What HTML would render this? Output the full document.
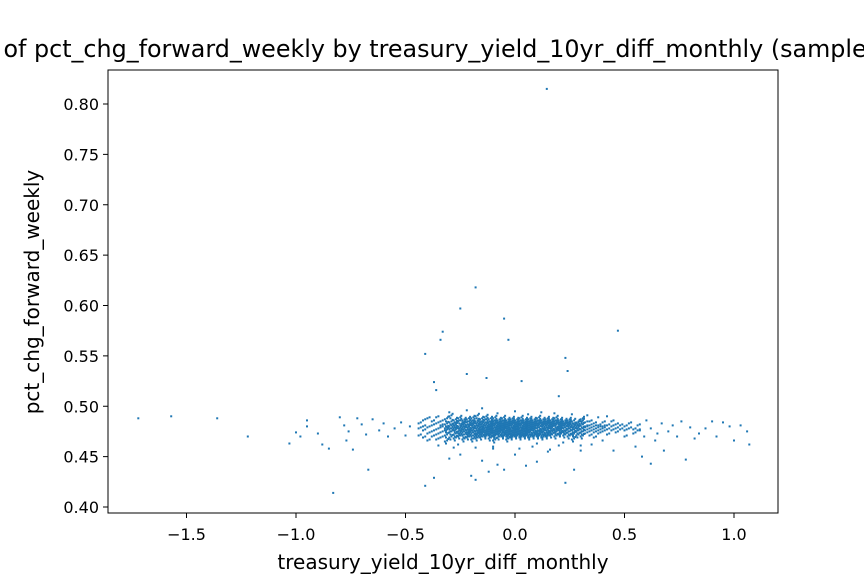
<!DOCTYPE html>
<html><head><meta charset="utf-8"><style>
html,body{margin:0;padding:0;background:#fff;overflow:hidden;}
svg{display:block;font-family:"DejaVu Sans","Liberation Sans",sans-serif;}
</style></head><body>
<svg id="chart" width="864" height="576" viewBox="0 0 864 576">
<rect x="0" y="0" width="864" height="576" fill="#fff"/>
<text x="393" y="57" font-size="23.8" text-anchor="middle" fill="#000">Scatter of pct_chg_forward_weekly by treasury_yield_10yr_diff_monthly (sample)</text>
<g id="points"></g>
<g id="xticks"></g>
<g id="yticks"></g>
<rect x="108" y="70" width="670" height="443" fill="none" stroke="#000" stroke-width="1"/>
<text x="443" y="569" font-size="20" text-anchor="middle">treasury_yield_10yr_diff_monthly</text>
<text x="0" y="0" font-size="20" text-anchor="middle" transform="translate(39,292) rotate(-90)">pct_chg_forward_weekly</text>
</svg>
<script>
const xTicks=[-1.5,-1.0,-0.5,0.0,0.5,1.0];
const xTickLabels=["\u22121.5","\u22121.0","\u22120.5","0.0","0.5","1.0"];
const yTicks=[0.40,0.45,0.50,0.55,0.60,0.65,0.70,0.75,0.80];
const yTickLabels=["0.40","0.45","0.50","0.55","0.60","0.65","0.70","0.75","0.80"];
const sparseX=[0.145,-0.18,-0.25,-0.05,-0.03,0.47,-0.33,-0.34,-0.41,0.23,-0.22,0.03,-0.13,0.24,-0.37,-0.36,0.20,
-1.72,-1.57,-1.36,-1.22,-1.03,-1.0,-0.98,-0.95,-0.95,-0.9,-0.88,-0.85,-0.83,-0.8,-0.78,-0.77,-0.74,-0.76,-0.72,-0.7,-0.68,-0.67,-0.65,-0.62,-0.6,-0.58,-0.55,-0.52,-0.5,-0.48,
0.6,0.62,0.64,0.65,0.67,0.68,0.7,0.72,0.74,0.76,0.78,0.8,0.82,0.84,0.87,0.9,0.92,0.95,0.98,1.0,1.03,1.06,1.07,0.58,0.55,0.62,0.57,0.59,
-0.41,-0.37,-0.2,-0.18,-0.12,-0.05,0.1,0.05,0.23,0.27,0.45,0.3,-0.08,-0.3,-0.25,-0.15,0.0,0.15,-0.1,0.08,0.2,-0.28,0.35,0.4,-0.35,
-0.3,-0.22,-0.15,-0.08,0.0,0.06,0.12,0.18,0.26,0.33,0.38,0.42,-0.26,-0.1,0.1,0.22,0.3,-0.18,0.02,0.16];
const sparseY=[0.815,0.618,0.597,0.587,0.566,0.575,0.574,0.566,0.552,0.548,0.532,0.525,0.528,0.535,0.524,0.516,0.510,
0.488,0.490,0.488,0.470,0.463,0.474,0.470,0.486,0.480,0.473,0.462,0.458,0.414,0.489,0.481,0.466,0.457,0.475,0.488,0.482,0.472,0.437,0.487,0.476,0.483,0.470,0.478,0.484,0.471,0.480,
0.486,0.478,0.466,0.473,0.483,0.456,0.475,0.481,0.470,0.485,0.447,0.479,0.468,0.473,0.478,0.485,0.470,0.484,0.480,0.466,0.481,0.475,0.462,0.450,0.460,0.443,0.476,0.470,
0.421,0.429,0.431,0.427,0.435,0.437,0.445,0.441,0.424,0.437,0.456,0.456,0.442,0.448,0.452,0.446,0.452,0.455,0.458,0.460,0.461,0.459,0.462,0.466,0.461,
0.494,0.496,0.498,0.493,0.495,0.492,0.494,0.493,0.492,0.491,0.489,0.490,0.462,0.460,0.463,0.464,0.461,0.459,0.458,0.457];
const coreCols=[-0.44,-0.42,-0.40,-0.38,-0.36,-0.34,-0.32,-0.30,-0.28,-0.26,-0.24,-0.22,-0.20,-0.18,-0.16,-0.14,-0.12,-0.10,-0.08,-0.06,-0.04,-0.02,0.00,0.02,0.04,0.06,0.08,0.10,0.12,0.14,0.16,0.18,0.20,0.22,0.24,0.26,0.28,0.30,0.32,0.34,0.36,0.38,0.40,0.42,0.44,0.46,0.48,0.50,0.52,0.54,0.56];
const coreVals=[
[0.478,0.483,0.471],[0.476,0.486,0.469,0.480],[0.479,0.473,0.488,0.466],[0.481,0.475,0.470,0.485],[0.477,0.483,0.472,0.467,0.489],
[0.479,0.474,0.485,0.469,0.481],[0.476,0.482,0.471,0.487,0.478,0.465],[0.480,0.474,0.484,0.469,0.477,0.490],[0.478,0.483,0.472,0.476,0.486,0.468,0.481],
[0.475,0.480,0.485,0.470,0.478,0.473,0.488],[0.477,0.482,0.471,0.486,0.474,0.479,0.467,0.484],[0.476,0.481,0.472,0.487,0.479,0.469,0.484,0.474],
[0.478,0.483,0.473,0.488,0.476,0.470,0.481,0.485,0.467],[0.475,0.480,0.485,0.471,0.478,0.483,0.468,0.490,0.473],[0.477,0.482,0.472,0.487,0.479,0.474,0.484,0.469,0.476],
[0.478,0.481,0.474,0.486,0.470,0.483,0.476,0.489,0.472],[0.477,0.480,0.475,0.484,0.471,0.482,0.473,0.487,0.468,0.479],[0.476,0.481,0.474,0.485,0.470,0.483,0.478,0.488,0.472,0.466],
[0.478,0.480,0.475,0.484,0.472,0.482,0.474,0.486,0.469,0.477],[0.477,0.481,0.473,0.485,0.471,0.483,0.476,0.488,0.470,0.479],[0.476,0.480,0.474,0.484,0.470,0.482,0.478,0.486,0.472,0.467],
[0.478,0.481,0.475,0.485,0.471,0.483,0.473,0.487,0.469,0.477],[0.477,0.480,0.474,0.484,0.472,0.482,0.476,0.486,0.470,0.479],[0.476,0.481,0.473,0.485,0.471,0.483,0.478,0.488,0.469,0.475],
[0.478,0.480,0.475,0.484,0.470,0.482,0.473,0.486,0.472,0.477],[0.477,0.481,0.474,0.485,0.471,0.483,0.476,0.487,0.469,0.479],[0.476,0.480,0.473,0.484,0.472,0.482,0.478,0.486,0.470],
[0.478,0.481,0.475,0.485,0.470,0.483,0.474,0.488,0.472],[0.477,0.480,0.474,0.484,0.471,0.482,0.476,0.486,0.469],[0.476,0.481,0.473,0.485,0.472,0.483,0.478,0.487,0.470],
[0.478,0.480,0.475,0.484,0.471,0.482,0.474,0.486],[0.477,0.481,0.474,0.485,0.470,0.483,0.476,0.488],[0.476,0.480,0.473,0.484,0.472,0.482,0.478,0.486],
[0.478,0.481,0.475,0.485,0.471,0.483,0.474],[0.477,0.480,0.474,0.484,0.470,0.482,0.486],[0.476,0.481,0.473,0.485,0.472,0.479,0.467],
[0.478,0.480,0.475,0.484,0.471,0.483],[0.477,0.481,0.474,0.485,0.470,0.487],[0.476,0.480,0.473,0.484,0.479],
[0.478,0.481,0.475,0.471,0.485],[0.477,0.480,0.474,0.483,0.469],[0.476,0.481,0.473,0.479],[0.478,0.480,0.475,0.484],
[0.477,0.481,0.472],[0.476,0.480,0.485],[0.478,0.474,0.482],[0.477,0.481],[0.476,0.480,0.470],[0.478,0.483],[0.477,0.473],[0.476,0.481]];
const NS="http://www.w3.org/2000/svg";
const X0=108,X1=778,Y0=70,Y1=513;
function sx(v){return 515+v*219;}
function sy(v){return 104+(0.80-v)*1007.5;}
const pts=document.getElementById('points');
function dot(x,y){
  const r=document.createElementNS(NS,'rect');
  r.setAttribute('x',(sx(x)-1).toFixed(1));
  r.setAttribute('y',(sy(y)-1).toFixed(1));
  r.setAttribute('width','2');r.setAttribute('height','2');
  r.setAttribute('fill','#1f77b4');
  
  
  pts.appendChild(r);
}
for(let i=0;i<sparseX.length;i++)dot(sparseX[i],sparseY[i]);
for(let c=0;c<coreCols.length;c++){
  const n=coreVals[c].length;
  for(let j=0;j<n;j++){
    dot(coreCols[c],coreVals[c][j]);
    dot(coreCols[c]+0.01,coreVals[c][(j+2)%n]+0.001);
    if(n>5){
      dot(coreCols[c]+0.005,coreVals[c][(j+3)%n]-0.002);
      dot(coreCols[c]+0.015,coreVals[c][(j+1)%n]+0.0025);
    }
  }
}
const xg=document.getElementById('xticks');
xTicks.forEach((v,i)=>{
  const l=document.createElementNS(NS,'line');
  l.setAttribute('x1',sx(v));l.setAttribute('x2',sx(v));l.setAttribute('y1',Y1);l.setAttribute('y2',Y1+5);
  l.setAttribute('stroke','#000');
  
  
  xg.appendChild(l);
  const t=document.createElementNS(NS,'text');
  t.setAttribute('x',sx(v));t.setAttribute('y',Y1+27);t.setAttribute('font-size','16');t.setAttribute('text-anchor','middle');
  t.textContent=xTickLabels[i];
  
  
  xg.appendChild(t);
});
const yg=document.getElementById('yticks');
yTicks.forEach((v,i)=>{
  const l=document.createElementNS(NS,'line');
  l.setAttribute('x1',X0-5);l.setAttribute('x2',X0);l.setAttribute('y1',sy(v));l.setAttribute('y2',sy(v));
  l.setAttribute('stroke','#000');
  
  
  yg.appendChild(l);
  const t=document.createElementNS(NS,'text');
  t.setAttribute('x',X0-9);t.setAttribute('y',sy(v)+6);t.setAttribute('font-size','16');t.setAttribute('text-anchor','end');
  t.textContent=yTickLabels[i];
  
  
  yg.appendChild(t);
});
</script>
</body></html>
